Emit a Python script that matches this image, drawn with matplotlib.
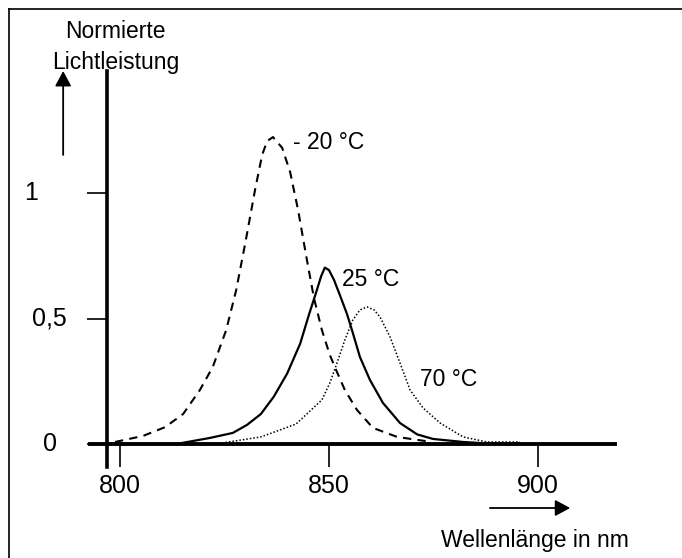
import matplotlib
matplotlib.use("Agg")
import matplotlib.pyplot as plt
from matplotlib.lines import Line2D

plt.rcParams['font.family'] = ['Liberation Sans', 'DejaVu Sans']

# -20 degC (dashed)
wl_cold = [798.8, 805.5, 810.8, 815.1, 819.1, 822.2, 825.4, 827.8, 830.1, 832.3,
           834.0, 835.2, 836.6, 838.8, 840.7, 842.6, 844.5, 846.4, 848.3, 850.2,
           851.9, 853.8, 856.7, 860.5, 866.3, 874.6]
p_cold = [0.01, 0.034, 0.069, 0.121, 0.216, 0.308, 0.454, 0.613, 0.811, 1.010,
          1.149, 1.204, 1.22, 1.177, 1.081, 0.931, 0.752, 0.581, 0.454, 0.355,
          0.288, 0.216, 0.137, 0.066, 0.030, 0.010]

# 25 degC (solid)
wl_room = [814.8, 821.5, 827.0, 830.4, 833.7, 836.8, 840.0, 843.1, 845.2, 847.1,
           848.1, 849.0, 850.0, 851.2, 852.6, 854.3, 855.5, 857.4, 859.8, 862.9,
           867.0, 871.1, 874.9, 882.1, 886.1]
p_room = [0.006, 0.026, 0.046, 0.078, 0.121, 0.190, 0.282, 0.400, 0.515, 0.613,
          0.667, 0.702, 0.692, 0.653, 0.593, 0.518, 0.454, 0.347, 0.256, 0.165,
          0.085, 0.040, 0.022, 0.010, 0.006]

# 70 degC (dotted)
wl_hot = [824.4, 833.7, 842.1, 848.3, 850.2, 851.9, 853.8, 855.7, 857.4, 859.1,
          860.8, 862.2, 864.6, 867.0, 869.4, 872.5, 876.6, 882.1, 887.8, 895.7]
p_hot = [0.006, 0.03, 0.081, 0.177, 0.244, 0.323, 0.415, 0.494, 0.534, 0.546,
         0.534, 0.506, 0.427, 0.323, 0.216, 0.145, 0.085, 0.03, 0.01, 0.01]

x_ticks = [800, 850, 900]
y_ticks = [0, 0.5, 1]
y_labels = ['0', '0,5', '1']

fig = plt.figure(figsize=(6.82, 5.58), dpi=100)
ax = fig.add_axes([0, 0, 1, 1])
ax.set_xlim(771.29, 934.45)
ax.set_ylim(-0.4504, 1.7639)

ax.plot(wl_cold, p_cold, color='black', lw=1.5, linestyle=(0, (4, 3)))
ax.plot(wl_room, p_room, color='black', lw=1.6)
ax.plot(wl_hot, p_hot, color='black', lw=1.1, linestyle=(0, (1, 1.3)))

# axes lines
for s in ['top', 'right']:
    ax.spines[s].set_visible(False)
ax.spines['left'].set_position(('data', 796.9))
ax.spines['left'].set_bounds(-0.089, 1.482)
ax.spines['left'].set_linewidth(2.6)
ax.spines['bottom'].set_position(('data', 0))
ax.spines['bottom'].set_bounds(792.8, 918.4)
ax.spines['bottom'].set_linewidth(2.8)

ax.set_xticks(x_ticks)
ax.tick_params(axis='x', direction='out', length=16.5, width=1.2, pad=4.5,
               labelsize=18)
ax.set_yticks(y_ticks)
ax.set_yticklabels([])
ax.tick_params(axis='y', direction='out', length=14.4, width=1.2)
for yv, lab, xl in zip(y_ticks, y_labels, [783.3, 783.0, 778.7]):
    ax.text(xl, yv, lab, fontsize=18, ha='center', va='center')

# axis titles and arrows
ax.text(799.0, 1.637, 'Normierte', fontsize=16.5, ha='center', va='center')
ax.text(799.0, 1.514, 'Lichtleistung', fontsize=16.5, ha='center', va='center')
ax.annotate('', xy=(786.4, 1.482), xytext=(786.4, 1.149),
            arrowprops=dict(arrowstyle='-|>,head_length=0.65,head_width=0.35',
                            mutation_scale=14, lw=1.3, color='black',
                            shrinkA=0, shrinkB=0))
ax.annotate('', xy=(907.7, -0.252), xytext=(888.5, -0.252),
            arrowprops=dict(arrowstyle='-|>,head_length=0.65,head_width=0.35',
                            mutation_scale=14, lw=1.3, color='black',
                            shrinkA=0, shrinkB=0))
ax.text(899.3, -0.379, 'Wellenlänge in nm', fontsize=16.5,
        ha='center', va='center')

# curve labels
ax.text(841.4, 1.200, '- 20 °C', fontsize=16.5, ha='left', va='center')
ax.text(853.1, 0.653, '25 °C', fontsize=16.5, ha='left', va='center')
ax.text(871.8, 0.256, '70 °C', fontsize=16.5, ha='left', va='center')

# frame (top and left edge only)
fig.add_artist(Line2D([9 / 682, 1], [1 - 9 / 558, 1 - 9 / 558],
                      transform=fig.transFigure, color='black', lw=1.2))
fig.add_artist(Line2D([9 / 682, 9 / 682], [0, 1 - 9 / 558],
                      transform=fig.transFigure, color='black', lw=1.2))

fig.savefig('out.png', dpi=100)
